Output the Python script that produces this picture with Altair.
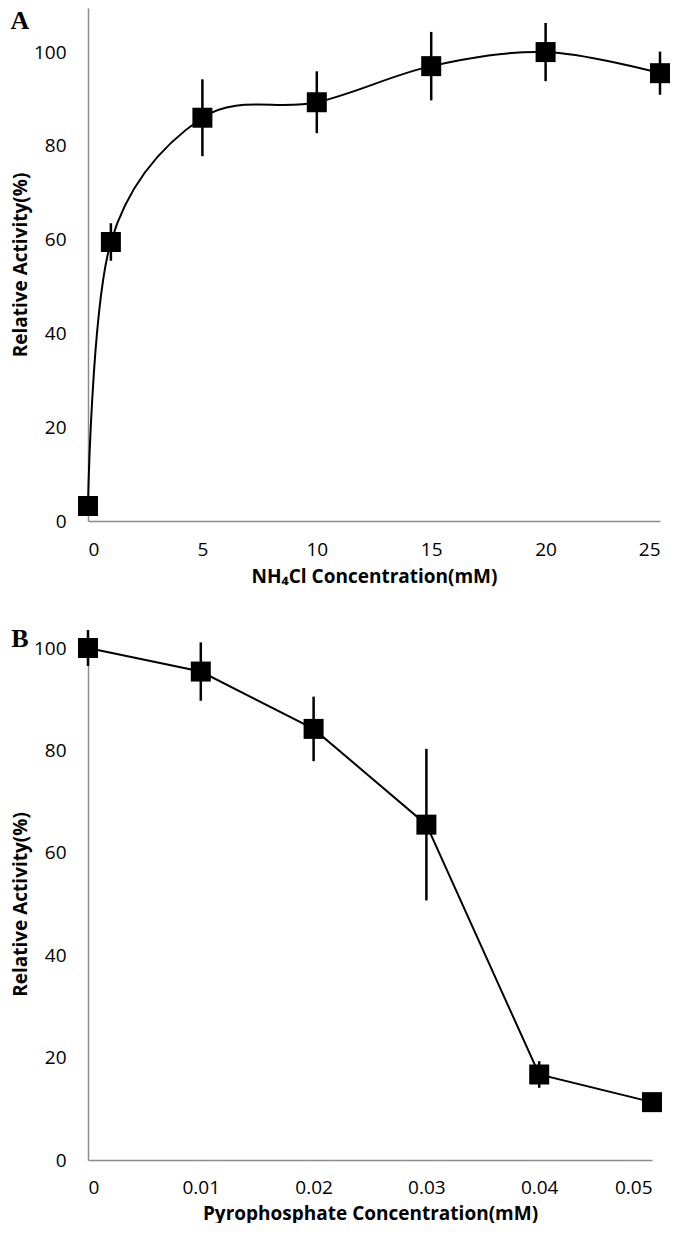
import altair as alt
import pandas as pd

# ---- data ----
nh4cl_conc = [0, 1, 5, 10, 15, 20, 25]
nh4cl_activity = [3.2, 59.5, 86.0, 89.3, 97.0, 100.0, 95.5]
nh4cl_error = [0.0, 4.0, 8.2, 6.6, 7.3, 6.2, 4.6]

ppi_conc = [0, 0.01, 0.02, 0.03, 0.04, 0.05]
ppi_activity = [100.0, 95.4, 84.2, 65.5, 16.7, 11.3]
ppi_error = [3.5, 5.7, 6.3, 14.8, 2.6, 0.8]

x_ticks_a = [0, 5, 10, 15, 20, 25]
x_ticks_b = [0, 0.01, 0.02, 0.03, 0.04, 0.05]
y_ticks = [0, 20, 40, 60, 80, 100]

LABEL_FONT = "Open Sans, Noto Sans, DejaVu Sans, sans-serif"


def make_df(conc, act, err):
    df = pd.DataFrame({"conc": conc, "act": act, "err": err})
    df["lo"] = df["act"] - df["err"]
    df["hi"] = df["act"] + df["err"]
    return df


def panel(df, xdomain, xticks, xfmt, ydomain, w, h,
          xtitle, letter, letter_y, interp, lpad, tpad):
    x = alt.X(
        "conc:Q",
        scale=alt.Scale(domain=xdomain, nice=False, zero=False),
        axis=alt.Axis(
            values=xticks, format=xfmt, title=xtitle,
            labelPadding=lpad, titlePadding=tpad,
        ),
    )
    y = alt.Y(
        "act:Q",
        scale=alt.Scale(domain=ydomain, nice=False),
        axis=alt.Axis(values=y_ticks, title="Relative Activity(%)",
                      titleX=-68, titleBaseline="middle"),
    )
    base = alt.Chart(df)
    line = base.mark_line(color="black", strokeWidth=2, interpolate=interp).encode(x=x, y=y)
    err = base.mark_rule(color="black", strokeWidth=2.5).encode(
        x=x, y=alt.Y("lo:Q"), y2=alt.Y2("hi:Q")
    )
    pts = base.mark_point(shape="square", filled=True, color="black", opacity=1, size=400).encode(
        x=x, y=y
    )
    lab = alt.Chart(pd.DataFrame({"label": [letter]})).mark_text(
        font="Liberation Serif", fontWeight="bold", fontSize=26, color="black",
        align="center", baseline="middle"
    ).encode(x=alt.value(-68), y=alt.value(letter_y), text="label:N")
    return alt.layer(line, err, pts, lab).properties(width=w, height=h)


df_a = make_df(nh4cl_conc, nh4cl_activity, nh4cl_error)
df_b = make_df(ppi_conc, ppi_activity, ppi_error)

chart_a = panel(df_a, [0, 25], x_ticks_a, "d", [0, 109.4], 572, 513,
                "NH\u2084Cl Concentration(mM)", "A", 13, "cardinal", 19, 8)
chart_b = panel(df_b, [0, 0.05], x_ticks_b, ".2~f", [0, 100], 564, 512,
                "Pyrophosphate Concentration(mM)", "B", -9, "linear", 18, 7)

chart = alt.vconcat(chart_a, chart_b, spacing=40).properties(
    padding={"left": 2, "top": 0, "right": 0, "bottom": 0},
).configure_view(stroke=None).configure_axis(
    grid=False,
    ticks=False,
    domainColor="#8c8c8c",
    domainWidth=1.5,
    labelFont=LABEL_FONT,
    labelFontSize=19,
    labelColor="black",
    titleFont=LABEL_FONT,
    titleFontSize=19,
    titleFontWeight="bold",
    titleColor="black",
).configure_axisY(
    labelPadding=22,
)

chart.save("out.html", embed_options={"renderer": "svg", "actions": False})
